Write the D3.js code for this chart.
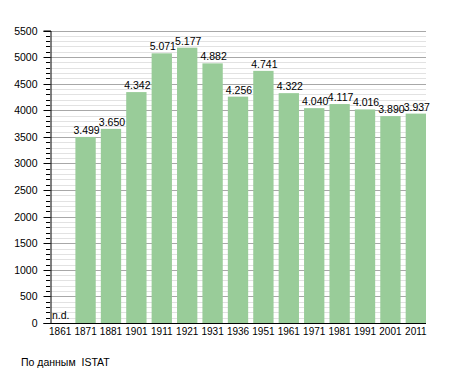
<!DOCTYPE html>
<html><head><meta charset="utf-8">
<script src="https://cdn.jsdelivr.net/npm/d3@7"></script>
<style>body{margin:0;background:#fff}svg{display:block;font-family:"Liberation Sans",Arial,sans-serif}</style>
</head><body>
<script>
const years = ["1861","1871","1881","1901","1911","1921","1931","1936","1951","1961","1971","1981","1991","2001","2011"];
const population = [null,3499,3650,4342,5071,5177,4882,4256,4741,4322,4040,4117,4016,3890,3937];
const valueLabels = ["n.d.","3.499","3.650","4.342","5.071","5.177","4.882","4.256","4.741","4.322","4.040","4.117","4.016","3.890","3.937"];
const yMajorTicks = [0,500,1000,1500,2000,2500,3000,3500,4000,4500,5000,5500];
const sourceText = "По данным  ISTAT";

const W = 455, H = 373;
const mLeft = 50, mRight = 426, mTop = 30.5, mBottom = 323;
const svg = d3.select("body").append("svg").attr("width", W).attr("height", H);

const x = d3.scaleBand().domain(years).range([mLeft, mRight]).paddingInner(0.2).paddingOuter(0).align(0);
const y = d3.scaleLinear().domain([0, 5500]).range([mBottom, mTop]);

const minor = d3.range(0, 5501, 100).filter(v => v % 500 !== 0);
// minor grid
svg.append("g").selectAll("line").data(minor).join("line")
  .attr("x1", mLeft).attr("x2", mRight).attr("y1", d => Math.round(y(d)) + 0.5).attr("y2", d => Math.round(y(d)) + 0.5)
  .attr("stroke", "#e2e2e2").attr("stroke-width", 1);
// major grid
svg.append("g").selectAll("line").data(yMajorTicks).join("line")
  .attr("x1", mLeft).attr("x2", mRight).attr("y1", d => Math.round(y(d)) + 0.5).attr("y2", d => Math.round(y(d)) + 0.5)
  .attr("stroke", "#a8a8a8").attr("stroke-width", 1);

// bars
svg.append("g").selectAll("rect").data(years.map((yr, i) => ({yr, v: population[i]})).filter(d => d.v != null)).join("rect")
  .attr("x", d => x(d.yr)).attr("width", x.bandwidth())
  .attr("y", d => y(d.v)).attr("height", d => y(0) - y(d.v))
  .attr("fill", "#99cc99");

// value labels
svg.append("g").selectAll("text").data(years.map((yr, i) => ({yr, v: population[i], t: valueLabels[i]}))).join("text")
  .attr("x", d => d.v == null ? x(d.yr) + 2 : x(d.yr) + x.bandwidth() / 2 + 1)
  .attr("y", d => d.v == null ? y(0) - 4 : y(d.v) - 3)
  .attr("text-anchor", d => d.v == null ? "start" : "middle")
  .attr("font-size", 10.5).attr("fill", "#000").text(d => d.t);

// y axis
const yAxis = d3.axisLeft(y).tickValues(yMajorTicks).tickSize(7).tickPadding(6).tickFormat(d3.format("d"));
const ga = svg.append("g").attr("transform", `translate(${mLeft + 0.5},0)`).call(yAxis);
ga.select(".domain").attr("stroke", "#000");
ga.selectAll(".tick line").attr("stroke", "#000");
ga.selectAll("text").attr("font-size", 10.5).attr("fill", "#000").attr("font-family", "Liberation Sans, Arial, sans-serif");
ga.selectAll(".tick").attr("transform", d => `translate(0,${Math.round(y(d)) + 0.5})`);
// minor ticks
svg.append("g").selectAll("line").data(minor).join("line")
  .attr("x1", mLeft - 4).attr("x2", mLeft).attr("y1", d => Math.round(y(d)) + 0.5).attr("y2", d => Math.round(y(d)) + 0.5)
  .attr("stroke", "#000");

// x axis
const xAxis = d3.axisBottom(x).tickSize(0).tickPadding(4);
const gx = svg.append("g").attr("transform", `translate(0,${Math.round(y(0)) + 0.5})`).call(xAxis);
gx.select(".domain").attr("stroke", "#000").attr("d", `M${mLeft},0H${mRight}`);
gx.selectAll("text").attr("font-size", 10).attr("fill", "#000").attr("font-family", "Liberation Sans, Arial, sans-serif");

svg.append("text").attr("x", 21).attr("y", 366).attr("font-size", 10.5).attr("fill", "#000")
  .style("white-space", "pre").text(sourceText);
</script>
</body></html>
